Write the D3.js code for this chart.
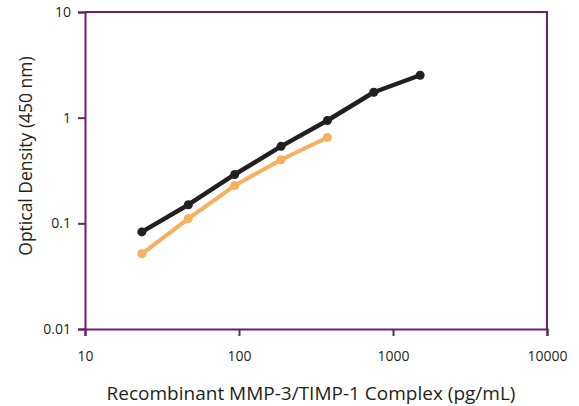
<!DOCTYPE html>
<html>
<head>
<meta charset="utf-8">
<script src="https://cdn.jsdelivr.net/npm/d3@7"></script>
<style>
  body { margin: 0; background: #fff; }
  svg text { font-family: "Open Sans", "Noto Sans", sans-serif; fill: #231f20; }
</style>
</head>
<body>
<div id="chart"></div>
<script>
// concentrations (pg/mL) and optical density readings
var concBlack = [23.4, 46.9, 93.75, 187.5, 375, 750, 1500];
var odBlack = [0.083, 0.150, 0.29, 0.535, 0.94, 1.74, 2.52];
var concOrange = [23.4, 46.9, 93.75, 187.5, 375];
var odOrange = [0.0515, 0.111, 0.228, 0.40, 0.65];

var xTicks = [10, 100, 1000, 10000];
var yTicks = [0.01, 0.1, 1, 10];

var W = 579, H = 406;
var m = {top: 12, right: 32, bottom: 77, left: 85};
var w = W - m.left - m.right;
var h = H - m.top - m.bottom;
var axisColor = '#6b1f6e';

var svg = d3.select('#chart').append('svg')
  .attr('width', W)
  .attr('height', H);

var g = svg.append('g')
  .attr('transform', 'translate(' + m.left + ',' + m.top + ')');

var x = d3.scaleLog().domain([10, 10000]).range([0, w]);
var y = d3.scaleLog().domain([0.01, 10]).range([h, 0]);

// frame top / right
g.append('path')
  .attr('d', 'M0,0H' + w + 'V' + h)
  .attr('fill', 'none')
  .attr('stroke', axisColor)
  .attr('stroke-width', 2);

var xAxis = g.append('g')
  .attr('transform', 'translate(0,' + h + ')')
  .call(d3.axisBottom(x).tickValues(xTicks).tickFormat(d3.format('d')).tickSize(7).tickPadding(15));

var yAxis = g.append('g')
  .call(d3.axisLeft(y).tickValues(yTicks).tickFormat(function(d) { return String(d); }).tickSize(7).tickPadding(7));

[xAxis, yAxis].forEach(function(a) {
  a.select('.domain').attr('stroke', axisColor).attr('stroke-width', 2);
  a.selectAll('.tick line').attr('stroke', axisColor).attr('stroke-width', 2);
  a.selectAll('.tick text').attr('font-size', 14).attr('fill', '#231f20')
    .style('font-family', '"Open Sans", "Noto Sans", sans-serif');
});

var line = d3.line()
  .x(function(d) { return x(d[0]); })
  .y(function(d) { return y(d[1]); });

function drawSeries(conc, od, color, width, r) {
  var data = d3.zip(conc, od);
  g.append('path')
    .datum(data)
    .attr('d', line)
    .attr('fill', 'none')
    .attr('stroke', color)
    .attr('stroke-width', width)
    .attr('stroke-linejoin', 'round');
  g.selectAll(null)
    .data(data)
    .enter().append('circle')
    .attr('cx', function(d) { return x(d[0]); })
    .attr('cy', function(d) { return y(d[1]); })
    .attr('r', r)
    .attr('fill', color);
}

drawSeries(concOrange, odOrange, '#f8af5e', 4, 4.5);
drawSeries(concBlack, odBlack, '#231f20', 4.5, 4.5);

// axis titles
svg.append('text')
  .attr('x', 311)
  .attr('y', 400)
  .attr('text-anchor', 'middle')
  .attr('font-size', 19)
  .text('Recombinant MMP-3/TIMP-1 Complex (pg/mL)');

svg.append('text')
  .attr('transform', 'translate(32,156) rotate(-90)')
  .attr('text-anchor', 'middle')
  .attr('font-size', 17.5)
  .text('Optical Density (450 nm)');
</script>
</body>
</html>
